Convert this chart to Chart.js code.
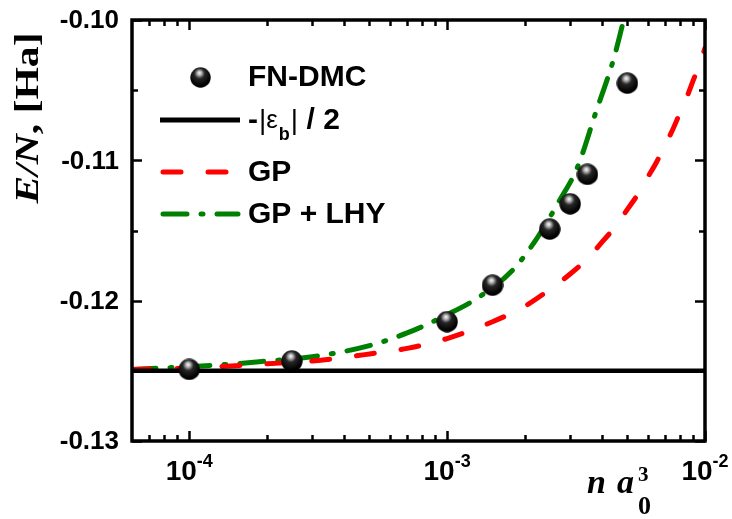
<!DOCTYPE html>
<html>
<head>
<meta charset="utf-8">
<script src="https://cdn.jsdelivr.net/npm/chart.js@4"></script>
<style>
  html, body { margin: 0; padding: 0; background: #fff; }
  #wrap { width: 732px; height: 519px; }
</style>
</head>
<body>
<div id="wrap"><canvas id="chart" width="732" height="519"></canvas></div>
<script>
// FN-DMC points
const dmcX = [1e-4, 2.5e-4, 1e-3, 1.5e-3, 2.5e-3, 3e-3, 3.5e-3, 5e-3];
const dmcY = [-0.1249, -0.1243, -0.1215, -0.1189, -0.1149, -0.1131, -0.1110, -0.1045];

// -|eps_b|/2 reference line
const bindX = [6e-5, 1e-2];
const bindY = [-0.125, -0.125];

// GP curve
const gpX = [6e-5, 1e-4, 2e-4, 3e-4, 5e-4, 7e-4, 1e-3, 1.5e-3, 2e-3, 2.5e-3, 3e-3, 3.5e-3, 4e-3, 4.5e-3, 5e-3, 5.5e-3, 6e-3, 6.5e-3, 7e-3, 7.5e-3, 8e-3, 8.5e-3, 9e-3, 9.5e-3, 1e-2];
const gpY = [-0.1249, -0.1248, -0.1245, -0.1243, -0.1238, -0.1234, -0.1227, -0.1215, -0.1204, -0.1192, -0.1181, -0.1170, -0.1158, -0.1147, -0.1135, -0.1124, -0.1112, -0.1101, -0.1089, -0.1078, -0.1066, -0.1055, -0.1043, -0.1032, -0.1020];

// GP + LHY curve
const lhyX = [6e-5, 1e-4, 1.5e-4, 2e-4, 3e-4, 5e-4, 7e-4, 1e-3, 1.34e-3, 1.8e-3, 2.24e-3, 2.7e-3, 3.2e-3, 3.77e-3, 4.42e-3, 4.84e-3];
const lhyY = [-0.1249, -0.1247, -0.1245, -0.1243, -0.1240, -0.1232, -0.1223, -0.1210, -0.1197, -0.1178, -0.1155, -0.1130, -0.1105, -0.1066, -0.1028, -0.1000];

const xMajor = [1e-4, 1e-3, 1e-2];
const xMajorLabels = [['10', '-4'], ['10', '-3'], ['10', '-2']];
const xMinor = [7e-5, 8e-5, 9e-5, 2e-4, 3e-4, 4e-4, 5e-4, 6e-4, 7e-4, 8e-4, 9e-4, 2e-3, 3e-3, 4e-3, 5e-3, 6e-3, 7e-3, 8e-3, 9e-3];
const yMajor = [-0.13, -0.12, -0.11, -0.10];
const yLabels = ['-0.13', '-0.12', '-0.11', '-0.10'];
const yMinor = [-0.125, -0.115, -0.105];

function pts(xs, ys) { return xs.map((x, i) => ({ x: x, y: ys[i] })); }

// shaded ball marker
function makeBall(r) {
  const c = document.createElement('canvas');
  c.width = c.height = r * 2;
  const g = c.getContext('2d');
  const grd = g.createRadialGradient(r * 0.9, r * 0.55, 0, r * 0.9, r * 0.7, r * 1.1);
  grd.addColorStop(0, '#ffffff');
  grd.addColorStop(0.18, '#b8b8b8');
  grd.addColorStop(0.45, '#262626');
  grd.addColorStop(1, '#000000');
  g.fillStyle = grd;
  g.beginPath();
  g.arc(r, r, r - 0.3, 0, Math.PI * 2);
  g.fill();
  return c;
}
const ball = makeBall(11);

const SANS = '"Liberation Sans", Arial, sans-serif';
const SERIF = '"Liberation Serif", "Times New Roman", serif';

function seg(c, x1, y1, x2, y2) {
  c.beginPath();
  c.moveTo(x1, y1);
  c.lineTo(x2, y2);
  c.stroke();
}

const framePlugin = {
  id: 'frame',
  afterDraw(chart) {
    const c = chart.ctx;
    const a = chart.chartArea;
    const xs = chart.scales.x, ys = chart.scales.y;
    c.save();
    c.setLineDash([]);
    c.lineCap = 'butt';
    c.strokeStyle = '#000';
    c.lineWidth = 3.5;
    c.strokeRect(a.left, a.top, a.right - a.left, a.bottom - a.top);

    // inward ticks on all four sides
    c.lineWidth = 2.5;
    xMajor.concat(xMinor).forEach(v => {
      const px = Math.round(xs.getPixelForValue(v)) + 0.5;
      const len = xMajor.includes(v) ? 10 : 6;
      seg(c, px, a.bottom, px, a.bottom - len);
      seg(c, px, a.top, px, a.top + len);
    });
    yMajor.concat(yMinor).forEach(v => {
      const py = Math.round(ys.getPixelForValue(v)) + 0.5;
      const len = yMajor.includes(v) ? 10 : 6;
      seg(c, a.left, py, a.left + len, py);
      seg(c, a.right, py, a.right - len, py);
    });

    // y tick labels
    c.fillStyle = '#000';
    c.font = 'bold 26px ' + SANS;
    c.textAlign = 'right';
    c.textBaseline = 'middle';
    yMajor.forEach((v, i) => {
      c.fillText(yLabels[i], 119, ys.getPixelForValue(v) + 1);
    });

    // x tick labels with superscripts
    c.textAlign = 'left';
    c.textBaseline = 'alphabetic';
    xMajor.forEach((v, i) => {
      const px = xs.getPixelForValue(v);
      c.font = 'bold 28px ' + SANS;
      const w1 = c.measureText(xMajorLabels[i][0]).width;
      c.font = 'bold 18px ' + SANS;
      const w2 = c.measureText(xMajorLabels[i][1]).width;
      const x0 = px - (w1 + w2) / 2;
      c.font = 'bold 28px ' + SANS;
      c.fillText(xMajorLabels[i][0], x0, 480);
      c.font = 'bold 18px ' + SANS;
      c.fillText(xMajorLabels[i][1], x0 + w1, 467);
    });

    // y axis title
    c.save();
    c.translate(38, 118);
    c.rotate(-Math.PI / 2);
    const f1 = 'italic bold 34px ' + SERIF, f2 = 'bold 34px ' + SERIF;
    c.font = f1; const wa = c.measureText('E/N').width;
    c.font = f2; const wb = c.measureText(', [Ha]').width;
    c.scale(171 / (wa + wb), 1);
    const sx = -(wa + wb) / 2;
    c.font = f1; c.fillText('E/N', sx, 0);
    c.font = f2; c.fillText(', [Ha]', sx + wa, 0);
    c.restore();

    // x axis title
    c.font = 'italic bold 34px ' + SERIF;
    c.fillText('n', 587, 493);
    c.fillText('a', 617, 493);
    c.font = 'bold 26px ' + SERIF;
    c.fillText('0', 638, 514);
    c.font = 'bold 21px ' + SERIF;
    c.fillText('3', 638, 481);

    // legend
    c.font = 'bold 30px ' + SANS;
    c.textBaseline = 'middle';
    c.drawImage(ball, 190, 67, 21, 21);
    c.fillText('FN-DMC', 248, 78);

    c.strokeStyle = '#000';
    c.lineWidth = 5;
    seg(c, 160, 120, 240, 120);
    let tx = 248;
    c.font = 'bold 30px ' + SANS; c.fillText('-', tx, 121); tx += c.measureText('-').width + 1;
    c.font = '28px ' + SANS; c.fillText('|', tx, 121); tx += c.measureText('|').width;
    c.font = '26px ' + SANS; c.fillText('\u03b5', tx, 121); tx += c.measureText('\u03b5').width + 1;
    c.font = 'bold 18px ' + SANS; c.fillText('b', tx, 135); tx += c.measureText('b').width + 1;
    c.font = '28px ' + SANS; c.fillText('|', tx, 121); tx += c.measureText('|').width;
    c.font = 'bold 30px ' + SANS; c.fillText(' / 2', tx, 121);

    c.lineCap = 'round';
    c.strokeStyle = '#ff0000';
    c.setLineDash([18, 27]);
    seg(c, 163, 172, 238, 172);
    c.font = 'bold 30px ' + SANS;
    c.fillText('GP', 248, 173);

    c.strokeStyle = '#008000';
    c.setLineDash([24, 14, 2, 14]);
    seg(c, 163, 214, 238, 214);
    c.setLineDash([]);
    c.fillText('GP + LHY', 248, 215);
    c.restore();
  }
};

const chart = new Chart(document.getElementById('chart'), {
  type: 'line',
  data: {
    datasets: [
      {
        label: 'FN-DMC',
        data: pts(dmcX, dmcY),
        showLine: false,
        pointStyle: ball,
        pointRadius: 11,
        pointHoverRadius: 11
      },
      {
        label: '-|eps_b| / 2',
        data: pts(bindX, bindY),
        borderColor: '#000',
        borderWidth: 4.5,
        pointRadius: 0
      },
      {
        label: 'GP',
        data: pts(gpX, gpY),
        borderColor: '#ff0000',
        borderWidth: 5,
        borderDash: [18, 27],
        borderCapStyle: 'round',
        cubicInterpolationMode: 'monotone',
        pointRadius: 0
      },
      {
        label: 'GP + LHY',
        data: pts(lhyX, lhyY),
        borderColor: '#008000',
        borderWidth: 5,
        borderDash: [24, 14, 2, 14],
        borderCapStyle: 'round',
        cubicInterpolationMode: 'monotone',
        pointRadius: 0
      }
    ]
  },
  options: {
    responsive: false,
    animation: false,
    layout: { padding: { left: 132, top: 20, right: 27, bottom: 78 } },
    plugins: { legend: { display: false }, tooltip: { enabled: false } },
    scales: {
      x: { type: 'logarithmic', min: 6e-5, max: 1e-2, display: false },
      y: { type: 'linear', min: -0.13, max: -0.10, display: false }
    }
  },
  plugins: [framePlugin]
});
</script>
</body>
</html>
